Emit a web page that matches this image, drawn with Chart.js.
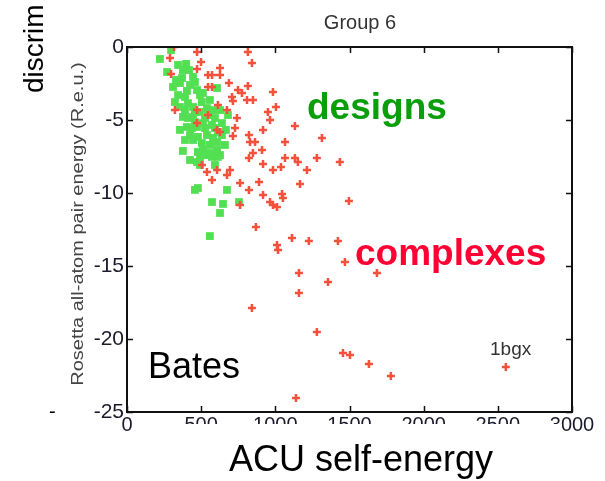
<!DOCTYPE html>
<html>
<head>
<meta charset="utf-8">
<script src="https://cdn.jsdelivr.net/npm/chart.js@4.4.0/dist/chart.umd.min.js"></script>
<style>
  html, body { margin: 0; padding: 0; background: #fff; }
  canvas { display: block; }
</style>
</head>
<body>
<canvas id="myChart" width="605" height="481"></canvas>
<script>
// ACU self-energy (x) vs pair energy (y)
var complexX = [317, 290, 472, 499, 472, 297, 546, 573, 627, 627, 687, 546, 573, 815, 842, 708, 748, 775, 809, 849,
  815, 714, 984, 323, 472, 546, 613, 674, 741, 728, 607, 472, 950, 1004, 964, 1132, 917, 822, 829, 863,
  1065, 1314, 849, 822, 910, 917, 984, 1038, 1065, 1132, 1152, 1280, 1213, 1435, 505, 539, 573, 607, 674, 694,
  762, 822, 890, 1166, 917, 964, 984, 1011, 1045, 1051, 1496, 762, 869, 1011, 1018, 1112, 1226, 1422, 1469, 1685,
  1159, 1355, 1159, 842, 1280, 1456, 1503, 1631, 1779, 1139, 2554, 714, 627];
var complexY = [0, -0.75, -0.34, -1.03, -1.51, -1.85, -1.92, -1.92, -1.44, -1.92, -2.47, -2.74, -2.74, -0.34, -1.1, -3.42, -2.95, -3.15, -3.63, -3.63,
  -2.67, -3.7, -3.08, -4.32, -4.32, -4.66, -3.97, -4.32, -4.86, -5.55, -5.68, -5.21, -4.45, -4.11, -5.0, -5.41, -5.68, -6.03, -6.51, -6.51,
  -6.51, -6.23, -7.26, -7.6, -7.05, -8.01, -8.42, -8.22, -7.6, -7.6, -7.88, -7.6, -8.42, -7.88, -8.08, -8.56, -9.11, -8.42, -8.77, -8.42,
  -9.32, -9.79, -9.25, -9.38, -10.14, -10.62, -10.82, -10.96, -10.07, -10.34, -10.55, -10.82, -12.33, -13.56, -13.9, -13.08, -13.29, -13.29, -14.73, -15.48,
  -15.48, -16.1, -16.85, -17.88, -19.52, -20.96, -21.1, -21.71, -22.53, -24.04, -21.92, -6.1, -5.82];

var designX = [222, 297, 270, 398, 418, 445, 458, 371, 310, 357, 344, 404, 472, 512, 607, 323, 357, 411, 445, 505,
  539, 377, 445, 492, 546, 593, 681, 404, 472, 512, 573, 640, 425, 478, 539, 613, 640, 580, 445, 505,
  559, 607, 377, 478, 559, 627, 492, 472, 573, 478, 458, 674, 573, 647, 627, 755, 559, 391, 438, 526,
  580, 411, 512, 607, 492, 613, 344, 377, 330, 425, 492, 559, 458, 391, 627, 526, 458, 593, 391, 660,
  526, 425, 593, 357, 667];
var designY = [-0.82, -0.21, -1.71, -1.16, -1.58, -2.05, -2.4, -2.12, -2.74, -2.47, -3.29, -3.01, -2.95, -3.15, -2.81, -3.77, -4.11, -3.84, -4.11, -3.77,
  -4.18, -4.79, -4.79, -4.45, -4.66, -4.86, -4.66, -5.48, -5.48, -5.21, -5.34, -5.21, -6.03, -6.16, -6.03, -5.82, -6.03, -6.23, -6.37, -6.58,
  -6.71, -6.51, -7.12, -7.19, -7.26, -7.4, -7.6, -7.88, -7.53, -9.66, -9.79, -9.79, -10.62, -10.75, -11.37, -10.62, -12.95, -3.42, -5.55, -5.55,
  -4.32, -4.86, -7.05, -7.05, -8.08, -7.53, -1.23, -1.58, -2.26, -2.6, -3.29, -3.63, -4.45, -4.32, -4.32, -4.86, -5.14, -5.55, -6.37, -6.71,
  -7.4, -7.74, -8.08, -5.68, -5.68];

var xTicks = [0, 500, 1000, 1500, 2000, 2500, 3000];
var yTicks = [0, -5, -10, -15, -20, -25];

function toPoints(xs, ys) {
  return xs.map(function (x, i) { return {x: x, y: ys[i]}; });
}

var SANS = '"Liberation Sans", Arial, sans-serif';

// box, inward ticks and the free text labels
var decorations = {
  id: 'decorations',
  afterDraw: function (chart) {
    var c = chart.ctx, a = chart.chartArea;
    var sx = chart.scales.x, sy = chart.scales.y;
    c.save();

    // hide the lower part of the x tick labels
    c.fillStyle = '#fff';
    c.fillRect(137, 424, 425, 20);

    c.strokeStyle = '#111';
    c.lineWidth = 2;
    c.strokeRect(a.left, a.top, a.right - a.left, a.bottom - a.top);
    c.lineWidth = 1.5;
    c.beginPath();
    xTicks.forEach(function (v) {
      var px = Math.round(sx.getPixelForValue(v)) + 0.5;
      c.moveTo(px, a.bottom); c.lineTo(px, a.bottom - 6);
      c.moveTo(px, a.top); c.lineTo(px, a.top + 6);
    });
    yTicks.forEach(function (v) {
      var py = Math.round(sy.getPixelForValue(v)) + 0.5;
      c.moveTo(a.left, py); c.lineTo(a.left + 6, py);
      c.moveTo(a.right, py); c.lineTo(a.right - 6, py);
    });
    c.stroke();

    c.textBaseline = 'alphabetic';
    c.textAlign = 'center';
    c.fillStyle = '#333';
    c.font = '20px ' + SANS;
    c.fillText('Group 6', 360, 29);

    c.fillStyle = '#000';
    c.font = '36px ' + SANS;
    c.fillText('ACU self-energy', 361, 471);

    c.textAlign = 'left';
    c.fillText('Bates', 148, 378);

    c.font = 'bold 37px ' + SANS;
    c.fillStyle = '#0a9e0a';
    c.fillText('designs', 307, 119);
    c.fillStyle = '#ff0033';
    c.fillText('complexes', 355, 265);

    c.fillStyle = '#333';
    c.font = '19px ' + SANS;
    c.fillText('1bgx', 490, 355);

    c.fillStyle = '#000';
    c.font = '20px ' + SANS;
    c.fillText('-', 49, 418);

    // rotated axis texts
    c.save();
    c.translate(43, 93);
    c.rotate(-Math.PI / 2);
    c.font = '28px ' + SANS;
    c.fillText('discrim', 0, 0);
    c.restore();

    c.save();
    c.translate(79, 224);
    c.rotate(-Math.PI / 2);
    c.scale(1.25, 1);
    c.textAlign = 'center';
    c.textBaseline = 'middle';
    c.fillStyle = '#444';
    c.font = '16px ' + SANS;
    c.fillText('Rosetta all-atom pair energy (R.e.u.)', 0, 0);
    c.restore();

    c.restore();
  }
};

var ctx = document.getElementById('myChart').getContext('2d');
var myChart = new Chart(ctx, {
  type: 'scatter',
  data: {
    datasets: [{
      label: 'complexes',
      data: toPoints(complexX, complexY),
      pointStyle: 'cross',
      radius: 4,
      borderColor: '#f5503c',
      borderWidth: 2.5
    }, {
      label: 'designs',
      data: toPoints(designX, designY),
      pointStyle: 'rect',
      radius: 5.5,
      backgroundColor: '#52e052',
      borderColor: '#52e052',
      borderWidth: 0
    }]
  },
  options: {
    responsive: false,
    animation: false,
    devicePixelRatio: 1,
    layout: { padding: { left: 0, top: 47, right: 33, bottom: 0 } },
    plugins: {
      legend: { display: false },
      tooltip: { enabled: false }
    },
    scales: {
      x: {
        min: 0, max: 3000,
        afterFit: function (s) { s.height = 69; },
        grid: { display: false, drawTicks: false },
        border: { display: false },
        ticks: {
          stepSize: 500, padding: 1, maxRotation: 0,
          color: '#1a1a2a',
          font: { size: 20, family: SANS },
          callback: function (v) { return String(v); }
        }
      },
      y: {
        min: -25, max: 0,
        afterFit: function (s) { s.width = 127; },
        grid: { display: false, drawTicks: false },
        border: { display: false },
        ticks: {
          stepSize: 5, padding: 3,
          color: '#1a1a2a',
          font: { size: 21, family: SANS }
        }
      }
    }
  },
  plugins: [decorations]
});
</script>
</body>
</html>
